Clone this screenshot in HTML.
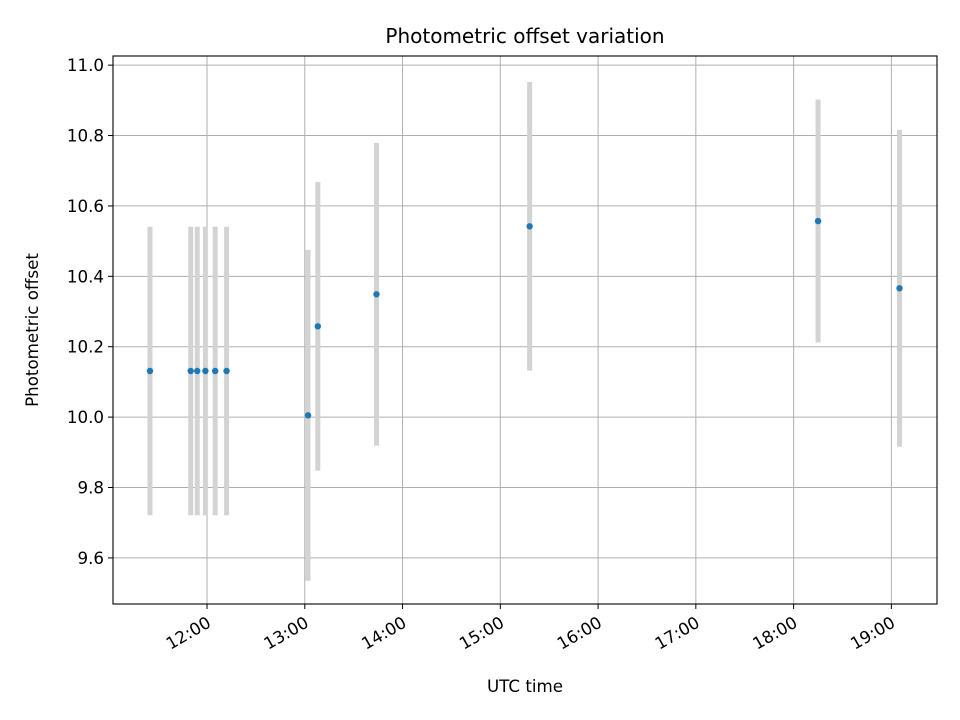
<!DOCTYPE html>
<html><head><meta charset="utf-8"><style>
html,body{margin:0;padding:0;background:#fff;}
svg{display:block;font-family:"DejaVu Sans","Liberation Sans",sans-serif;}
</style></head><body>
<svg id="chart" width="960" height="720" xmlns="http://www.w3.org/2000/svg">
<rect width="960" height="720" fill="#fff"/>
<g id="grid"></g>
<g id="bars"></g>
<g id="pts"></g>
<rect x="113" y="56" width="824" height="548" fill="none" stroke="#000" stroke-width="1.1"/>
<g id="axes"></g>
<text x="525" y="43" text-anchor="middle" font-size="20">Photometric offset variation</text>
<text x="525" y="692" text-anchor="middle" font-size="16.7">UTC time</text>
<text transform="translate(38,330) rotate(-90)" text-anchor="middle" font-size="16.7">Photometric offset</text>
</svg>
<script>
const times = ["11:25","11:50","11:54","11:59","12:05","12:12","13:02","13:08","13:44","15:18","18:15","19:05"];
const offsets = [10.131,10.131,10.131,10.131,10.131,10.131,10.005,10.258,10.349,10.542,10.557,10.366];
const errors = [0.41,0.41,0.41,0.41,0.41,0.41,0.47,0.41,0.43,0.41,0.345,0.45];
const yTicks = [9.6,9.8,10.0,10.2,10.4,10.6,10.8,11.0];
const xTicks = ["12:00","13:00","14:00","15:00","16:00","17:00","18:00","19:00"];

const NS="http://www.w3.org/2000/svg";
const L=113,R=937,T=56,B=604;
const toMin=s=>{const [h,m]=s.split(":").map(Number);return h*60+m;};
const xMin=662.3,xMax=1168;
const yMin=9.469,yMax=11.026;
const xs=m=>L+(m-xMin)/(xMax-xMin)*(R-L);
const ys=v=>B-(v-yMin)/(yMax-yMin)*(B-T);
function mk(tag,attrs,parent){const e=document.createElementNS(NS,tag);for(const k in attrs)e.setAttribute(k,attrs[k]);document.getElementById(parent).appendChild(e);return e;}

yTicks.forEach(v=>{
  const y=ys(v);
  const g=mk("line",{x1:L,x2:R,y1:y,y2:y,stroke:"#b0b0b0","stroke-width":1},"grid");
  
  
  const t=mk("line",{x1:L-5,x2:L,y1:y,y2:y,stroke:"#000"},"axes");
  
  
  const l=mk("text",{x:L-9,y:y+6,"text-anchor":"end","font-size":16.7},"axes");
  l.textContent=v.toFixed(1);
  
  
});
xTicks.forEach(s=>{
  const x=xs(toMin(s));
  const g=mk("line",{x1:x,x2:x,y1:T,y2:B,stroke:"#b0b0b0","stroke-width":1},"grid");
  
  
  const t=mk("line",{x1:x,x2:x,y1:B,y2:B+5,stroke:"#000"},"axes");
  
  
  const l=mk("text",{transform:`translate(${x+5},${B+22}) rotate(-30)`,"text-anchor":"end","font-size":16.7},"axes");
  l.textContent=s;
  
  
});
times.forEach((s,i)=>{
  const x=xs(toMin(s));
  const b=mk("line",{x1:x,x2:x,y1:ys(offsets[i]+errors[i]),y2:ys(offsets[i]-errors[i]),stroke:"#d3d3d3","stroke-width":5},"bars");
  
  
  const p=mk("circle",{cx:x,cy:ys(offsets[i]),r:3.2,fill:"#1f77b4"},"pts");
  
  
});
</script>
</body></html>
